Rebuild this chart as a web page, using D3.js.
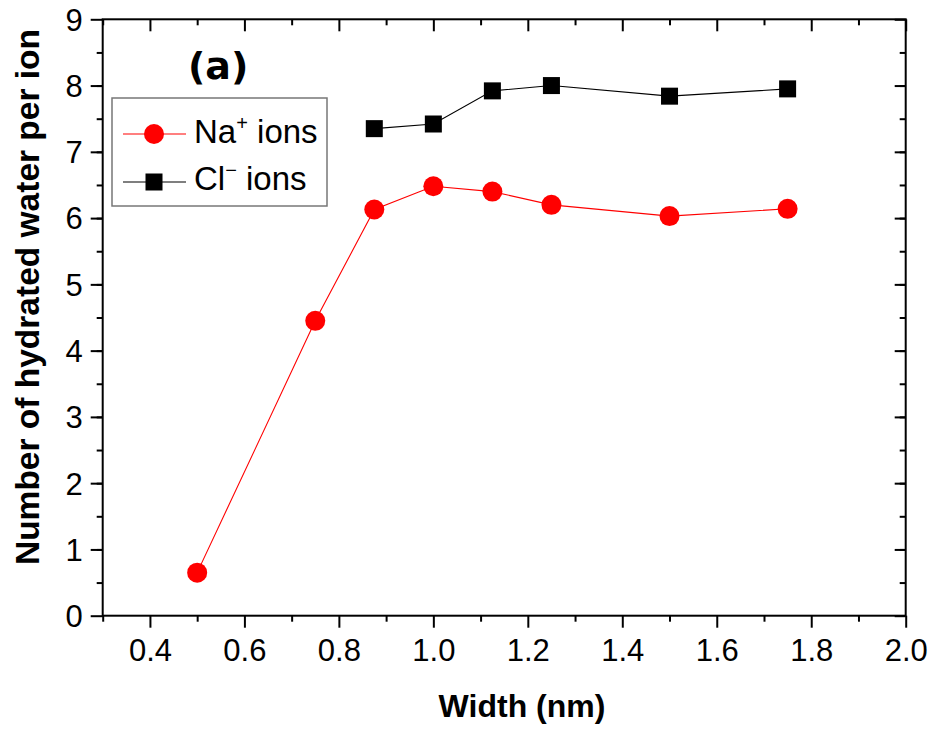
<!DOCTYPE html>
<html>
<head>
<meta charset="utf-8">
<script src="https://cdn.jsdelivr.net/npm/d3@7/dist/d3.min.js"></script>
<style>
  html, body { margin: 0; padding: 0; background: #fff; }
  svg { display: block; }
</style>
</head>
<body>
<svg id="chart" width="935" height="731"></svg>
<script>
// Hydration numbers versus channel width
const widths = [0.5, 0.75, 0.875, 1.0, 1.125, 1.25, 1.5, 1.75];
const naValues = [0.65, 4.45, 6.13, 6.48, 6.40, 6.20, 6.03, 6.14];
const clWidths = [0.875, 1.0, 1.125, 1.25, 1.5, 1.75];
const clValues = [7.35, 7.42, 7.92, 8.00, 7.84, 7.95];
const xTicks = [0.4, 0.6, 0.8, 1.0, 1.2, 1.4, 1.6, 1.8, 2.0];
const yTicks = [0, 1, 2, 3, 4, 5, 6, 7, 8, 9];

const svg = d3.select("#chart");
const plotLeft = 102.7, plotRight = 905.7, plotTop = 19.3, plotBottom = 615.7;

const x = d3.scaleLinear().domain([0.3, 2.0]).range([plotLeft, plotRight]);
const y = d3.scaleLinear().domain([0, 9]).range([plotBottom, plotTop]);

const xMinor = d3.range(3, 21).map(d => d / 10).filter(v => !xTicks.some(t => Math.abs(t - v) < 1e-9));
const yMinor = d3.range(0, 18).map(d => d / 2 + 0.5).filter(v => v < 9);

const tickFont = "'Liberation Sans', Arial, sans-serif";

function styleAxis(g) {
  g.selectAll("path.domain").remove();
  g.selectAll("line").attr("stroke", "#000").attr("stroke-width", 2);
}

// bottom axis: outward ticks with labels
const gx = svg.append("g").attr("transform", `translate(0,${plotBottom})`)
  .call(d3.axisBottom(x).tickValues(xTicks).tickSize(12).tickPadding(11).tickFormat(d3.format(".1f")));
styleAxis(gx);
gx.selectAll("text").attr("font-family", tickFont).attr("font-size", 31).attr("fill", "#000");
svg.append("g").attr("transform", `translate(0,${plotBottom})`)
  .call(d3.axisBottom(x).tickValues(xMinor).tickSize(6).tickFormat("")).call(styleAxis);

// top axis: inward ticks only
svg.append("g").attr("transform", `translate(0,${plotTop})`)
  .call(d3.axisTop(x).tickValues(xTicks).tickSize(-12).tickFormat("")).call(styleAxis);
svg.append("g").attr("transform", `translate(0,${plotTop})`)
  .call(d3.axisTop(x).tickValues(xMinor).tickSize(-6).tickFormat("")).call(styleAxis);

// left axis: outward ticks with labels
const gy = svg.append("g").attr("transform", `translate(${plotLeft},0)`)
  .call(d3.axisLeft(y).tickValues(yTicks).tickSize(12).tickPadding(8).tickFormat(d3.format("d")));
styleAxis(gy);
gy.selectAll("text").attr("font-family", tickFont).attr("font-size", 31).attr("fill", "#000").attr("dy", "0.35em");
svg.append("g").attr("transform", `translate(${plotLeft},0)`)
  .call(d3.axisLeft(y).tickValues(yMinor).tickSize(6).tickFormat("")).call(styleAxis);

// right axis: inward ticks only
svg.append("g").attr("transform", `translate(${plotRight},0)`)
  .call(d3.axisRight(y).tickValues(yTicks).tickSize(-11).tickFormat("")).call(styleAxis);
svg.append("g").attr("transform", `translate(${plotRight},0)`)
  .call(d3.axisRight(y).tickValues(yMinor).tickSize(-6).tickFormat("")).call(styleAxis);

// frame
svg.append("rect").attr("x", plotLeft).attr("y", plotTop)
  .attr("width", plotRight - plotLeft).attr("height", plotBottom - plotTop)
  .attr("fill", "none").attr("stroke", "#000").attr("stroke-width", 2);

// series
const line = d3.line().x(d => x(d[0])).y(d => y(d[1]));
const naData = widths.map((w, i) => [w, naValues[i]]);
const clData = clWidths.map((w, i) => [w, clValues[i]]);

svg.append("path").datum(clData).attr("d", line)
  .attr("fill", "none").attr("stroke", "#000").attr("stroke-width", 1.1);
svg.append("path").datum(naData).attr("d", line)
  .attr("fill", "none").attr("stroke", "#ff0000").attr("stroke-width", 1.1);

const sq = 17;
svg.append("g").selectAll("rect").data(clData).join("rect")
  .attr("x", d => x(d[0]) - sq / 2).attr("y", d => y(d[1]) - sq / 2)
  .attr("width", sq).attr("height", sq).attr("fill", "#000");
svg.append("g").selectAll("circle").data(naData).join("circle")
  .attr("cx", d => x(d[0])).attr("cy", d => y(d[1])).attr("r", 10).attr("fill", "#ff0000");

// panel label
svg.append("text").attr("x", 188).attr("y", 79)
  .attr("font-family", "'DejaVu Sans', Verdana, sans-serif").attr("font-weight", "bold")
  .attr("font-size", 38).attr("fill", "#000").text("(a)");

// legend
const legend = svg.append("g");
legend.append("rect").attr("x", 112).attr("y", 98).attr("width", 215).attr("height", 108)
  .attr("fill", "#fff").attr("stroke", "#777").attr("stroke-width", 1.5);
legend.append("line").attr("x1", 123).attr("x2", 186).attr("y1", 134).attr("y2", 134)
  .attr("stroke", "#ff0000").attr("stroke-width", 1.1);
legend.append("circle").attr("cx", 154).attr("cy", 134).attr("r", 10).attr("fill", "#ff0000");
legend.append("line").attr("x1", 123).attr("x2", 186).attr("y1", 182).attr("y2", 182)
  .attr("stroke", "#000").attr("stroke-width", 1.1);
legend.append("rect").attr("x", 154 - sq / 2).attr("y", 182 - sq / 2).attr("width", sq).attr("height", sq).attr("fill", "#000");

const t1 = legend.append("text").attr("x", 194).attr("y", 143)
  .attr("font-family", tickFont).attr("font-size", 33).attr("fill", "#000");
t1.append("tspan").text("Na");
t1.append("tspan").attr("dy", -13).attr("font-size", 20).text("+");
t1.append("tspan").attr("dy", 13).text(" ions");

const t2 = legend.append("text").attr("x", 194).attr("y", 190)
  .attr("font-family", tickFont).attr("font-size", 33).attr("fill", "#000");
t2.append("tspan").text("Cl");
t2.append("tspan").attr("dy", -13).attr("font-size", 20).text("\u2212");
t2.append("tspan").attr("dy", 13).text(" ions");

// axis titles
svg.append("text").attr("x", 522).attr("y", 717).attr("text-anchor", "middle")
  .attr("font-family", tickFont).attr("font-weight", "bold")
  .attr("font-size", 32).attr("fill", "#000").text("Width (nm)");

svg.append("text").attr("transform", "translate(39,297) rotate(-90)").attr("text-anchor", "middle")
  .attr("font-family", tickFont).attr("font-weight", "bold")
  .attr("font-size", 33.5).attr("fill", "#000").text("Number of hydrated water per ion");
</script>
</body>
</html>
